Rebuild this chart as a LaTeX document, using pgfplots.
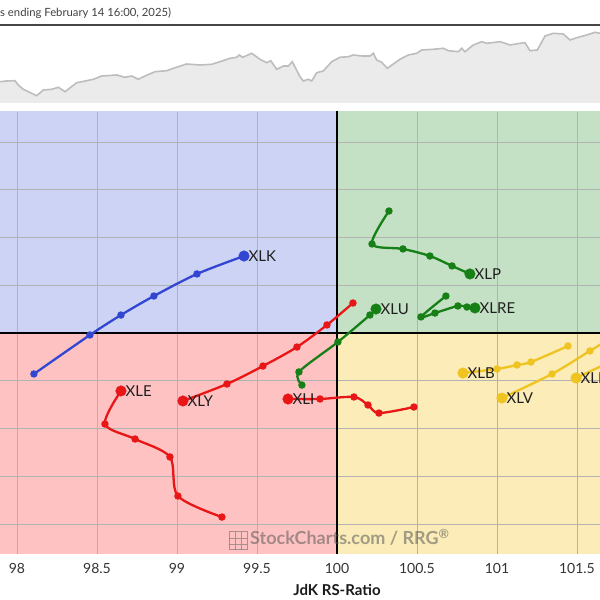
\documentclass[border=0pt]{standalone}
\usepackage{pgfplots}
\pgfplotsset{compat=1.18}
\usepackage{fontspec}
\setmainfont{Lato}
\definecolor{qimp}{RGB}{204,211,245}
\definecolor{qlead}{RGB}{196,224,197}
\definecolor{qlag}{RGB}{255,194,194}
\definecolor{qweak}{RGB}{251,236,184}
\definecolor{cblue}{RGB}{50,70,210}
\definecolor{cred}{RGB}{232,22,22}
\definecolor{cgreen}{RGB}{22,128,22}
\definecolor{cyellow}{RGB}{240,196,32}
\pgfplotsset{
  tail/.style={smooth, line width=2.3pt, mark=*, mark size=2.5pt, mark options={solid}},
  head/.style={only marks, mark=*, mark size=5.3pt,
    nodes near coords={#1},
    every node near coord/.style={anchor=west, xshift=4.5pt, inner sep=0pt,
      font=\fontsize{15}{15}\selectfont, text=black!88}},
  rrg/.style={at={(0pt,46pt)}, anchor=south west, scale only axis,
    width=600pt, height=442.3pt,
    xmin=97.894, xmax=101.644, ymin=97.686, ymax=102.317},
}
\begin{document}
\begin{tikzpicture}
\useasboundingbox (0pt,0pt) rectangle (600pt,600pt);
\clip (0pt,0pt) rectangle (600pt,600pt);
% price panel
\begin{axis}[at={(0pt,497pt)}, anchor=south west, scale only axis,
  width=600pt, height=78pt, xmin=0, xmax=600, ymin=25, ymax=103,
  y dir=reverse, axis lines=none, clip=false]
\addplot[fill=black!8, draw=none] coordinates {
(0,81.7)(6.7,81)(15,80.7)(18.3,85)(23.3,89.3)(36.7,95.7)(43.3,90)(51.7,89.3)(58.3,87.3)(65,91.7)
(76.7,82.7)(86.7,80.7)(93.3,79.3)(101.7,76)(116.7,75)(125,77.3)(131.7,76)(138.3,79.3)(145,76)
(155,71.7)(166.7,70.7)(173.3,68.3)(186.7,64)(200,65)(211.7,64.3)(220,61.7)(230,58.3)(236.7,57.3)
(239.3,55)(242.7,57.3)(251.7,53.3)(260,59.3)(266.7,62.7)(270.7,60.7)(276.7,69.3)(283.3,66)(288.3,66)
(292.3,61.7)(300,76.7)(303.3,81)(308.3,79.3)(311.7,81)(316.7,72.7)(323.3,71)(331.7,61.7)(340,57.3)
(348.3,56.7)(353.3,55)(361.7,56)(370,56)(373.3,53.3)(376.7,60)(381.7,62.3)(387.3,68.3)(393.3,64)
(400,59.3)(408.3,55)(416.7,53.3)(421.7,50)(433.3,49.3)(443.3,48.3)(448.3,50.7)(458.3,51.7)(461.7,48.3)
(465,51.7)(473.3,45)(481.7,41.7)(486.7,43.3)(500,41.7)(505,43.3)(510,45)(520,43.3)(525,42.7)(530,50.7)
(537.3,50)(545,36)(553.3,33.3)(563.3,34)(570,40)(576.7,37.7)(586.7,35)(595,32.3)(600,33.3)
(600,103)(0,103)};
\addplot[color=black!26, line width=1.6pt] coordinates {
(0,81.7)(6.7,81)(15,80.7)(18.3,85)(23.3,89.3)(36.7,95.7)(43.3,90)(51.7,89.3)(58.3,87.3)(65,91.7)
(76.7,82.7)(86.7,80.7)(93.3,79.3)(101.7,76)(116.7,75)(125,77.3)(131.7,76)(138.3,79.3)(145,76)
(155,71.7)(166.7,70.7)(173.3,68.3)(186.7,64)(200,65)(211.7,64.3)(220,61.7)(230,58.3)(236.7,57.3)
(239.3,55)(242.7,57.3)(251.7,53.3)(260,59.3)(266.7,62.7)(270.7,60.7)(276.7,69.3)(283.3,66)(288.3,66)
(292.3,61.7)(300,76.7)(303.3,81)(308.3,79.3)(311.7,81)(316.7,72.7)(323.3,71)(331.7,61.7)(340,57.3)
(348.3,56.7)(353.3,55)(361.7,56)(370,56)(373.3,53.3)(376.7,60)(381.7,62.3)(387.3,68.3)(393.3,64)
(400,59.3)(408.3,55)(416.7,53.3)(421.7,50)(433.3,49.3)(443.3,48.3)(448.3,50.7)(458.3,51.7)(461.7,48.3)
(465,51.7)(473.3,45)(481.7,41.7)(486.7,43.3)(500,41.7)(505,43.3)(510,45)(520,43.3)(525,42.7)(530,50.7)
(537.3,50)(545,36)(553.3,33.3)(563.3,34)(570,40)(576.7,37.7)(586.7,35)(595,32.3)(600,33.3)};
\addplot[color=black!72, line width=1.2pt] coordinates {(0,25)(600,25)};
\end{axis}
\node[anchor=base west, inner sep=0pt, font=\fontsize{11.3}{11.3}\selectfont, text=black!75] at (0pt,583pt) {s ending February 14 16:00, 2025)};
% RRG quadrant backgrounds
\begin{axis}[rrg, axis lines=none, clip=true]
\addplot[fill=qimp, draw=none] coordinates {(97.5,100)(100,100)(100,102.5)(97.5,102.5)};
\addplot[fill=qlead, draw=none] coordinates {(100,100)(102,100)(102,102.5)(100,102.5)};
\addplot[fill=qlag, draw=none] coordinates {(97.5,97.5)(100,97.5)(100,100)(97.5,100)};
\addplot[fill=qweak, draw=none] coordinates {(100,97.5)(102,97.5)(102,100)(100,100)};
\end{axis}
% RRG data
\begin{axis}[rrg,
  axis line style={draw=none},
  scaled x ticks=false,
  xtick={98,98.5,99,99.5,100,100.5,101,101.5},
  xticklabels={98,98.5,99,99.5,100,100.5,101,101.5},
  ytick={98,98.5,99,99.5,100,100.5,101,101.5,102},
  yticklabels={},
  major tick length=0pt,
  grid=major,
  grid style={line width=0.8pt, color=black!30},
  xticklabel style={font=\fontsize{14}{14}\selectfont, text=black!80, anchor=base, yshift=-19pt, inner sep=0pt},
  xlabel={\bfseries JdK RS-Ratio},
  x label style={at={(axis description cs:0.5616,0)}, anchor=base, yshift=-41pt, inner sep=0pt,
    font=\fontsize{15}{15}\selectfont, text=black!90},
  clip=true]
\addplot[black, line width=1.5pt] coordinates {(100,97.5)(100,102.5)};
\addplot[black, line width=1.5pt] coordinates {(97.5,100)(102,100)};
% XLK
\addplot[tail, cblue] coordinates {(98.106,99.571)(98.456,99.979)(98.65,100.188)(98.856,100.387)(99.125,100.618)(99.419,100.806)};
\addplot[head=XLK, cblue] coordinates {(99.419,100.806)};
% XLE
\addplot[tail, cred] coordinates {(99.281,98.073)(99.006,98.293)(98.956,98.702)(98.738,98.890)(98.55,99.047)(98.65,99.393)};
\addplot[head=XLE, cred] coordinates {(98.65,99.393)};
% XLY
\addplot[tail, cred] coordinates {(100.1,100.314)(99.9375,100.084)(99.75,99.853)(99.5375,99.654)(99.3125,99.466)(99.0375,99.288)};
\addplot[head=XLY, cred] coordinates {(99.0375,99.288)};
% XLI
\addplot[tail, cred] coordinates {(100.481,99.225)(100.2625,99.162)(100.194,99.246)(100.106,99.330)(99.894,99.309)(99.694,99.309)};
\addplot[head=XLI, cred] coordinates {(99.694,99.309)};
% XLU
\addplot[tail, cgreen] coordinates {(99.781,99.455)(99.7625,99.592)(100.006,99.906)(100.206,100.188)(100.244,100.251)};
\addplot[head=XLU, cgreen] coordinates {(100.244,100.251)};
% XLP
\addplot[tail, cgreen] coordinates {(100.325,101.277)(100.219,100.932)(100.4125,100.880)(100.581,100.806)(100.719,100.702)(100.831,100.618)};
\addplot[head=XLP, cgreen] coordinates {(100.831,100.618)};
% XLRE
\addplot[tail, cgreen] coordinates {(100.681,100.387)(100.525,100.168)(100.6125,100.209)(100.756,100.283)(100.8125,100.272)(100.8625,100.262)};
\addplot[head=XLRE, cgreen] coordinates {(100.8625,100.262)};
% XLB
\addplot[tail, cyellow] coordinates {(101.444,99.864)(101.2125,99.696)(101.125,99.665)(101.0,99.623)(100.7875,99.581)};
\addplot[head=XLB, cyellow] coordinates {(100.7875,99.581)};
% XLV
\addplot[tail, cyellow] coordinates {(102.019,100.220)(101.819,100.052)(101.581,99.812)(101.344,99.571)(101.031,99.319)};
\addplot[head=XLV, cyellow] coordinates {(101.031,99.319)};
% XLF
\addplot[tail, cyellow] coordinates {(101.925,99.874)(101.719,99.707)(101.494,99.529)};
\addplot[head=XLF, cyellow] coordinates {(101.494,99.529)};
\end{axis}
% watermark
\begin{scope}[opacity=0.55]
\draw[black!60, line width=1pt] (229pt,50pt) rectangle (247pt,68pt);
\draw[black!60, line width=0.6pt] (229pt,56pt) -- (247pt,56pt) (229pt,62pt) -- (247pt,62pt) (235pt,50pt) -- (235pt,68pt) (241pt,50pt) -- (241pt,68pt);
\node[anchor=base west, inner sep=0pt, font=\fontsize{18}{18}\selectfont\bfseries, text=black!65] at (250pt,55pt) {StockCharts.com / RRG\textsuperscript{®}};
\end{scope}
\end{tikzpicture}
\end{document}
